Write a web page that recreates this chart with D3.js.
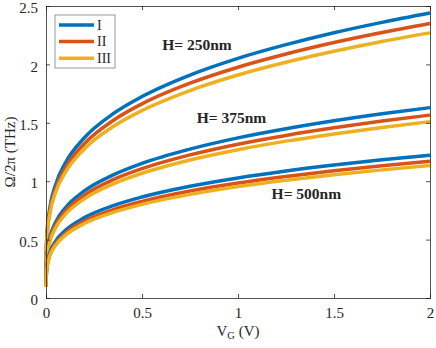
<!DOCTYPE html>
<html>
<head>
<meta charset="utf-8">
<script src="https://cdn.jsdelivr.net/npm/d3@7"></script>
<style>
  body { margin: 0; background: #fff; }
  svg text { font-family: "Liberation Serif", "DejaVu Serif", serif; fill: #262626; }
</style>
</head>
<body>
<div id="chart"></div>
<script>
// gate voltage samples (V)
var vg = [0.0001, 0.0005, 0.001, 0.005, 0.02, 0.05, 0.1, 0.2, 0.35, 0.5, 0.75, 1, 1.25, 1.5, 1.75, 2];

// Omega/2pi (THz)
var h250_I   = [0.205, 0.307, 0.365, 0.546, 0.772, 0.970, 1.154, 1.372, 1.578, 1.725, 1.909, 2.052, 2.169, 2.271, 2.360, 2.44];
var h250_II  = [0.198, 0.295, 0.351, 0.525, 0.743, 0.934, 1.111, 1.321, 1.520, 1.662, 1.839, 1.976, 2.089, 2.187, 2.273, 2.35];
var h250_III = [0.191, 0.285, 0.339, 0.508, 0.718, 0.903, 1.073, 1.276, 1.468, 1.605, 1.776, 1.909, 2.018, 2.112, 2.196, 2.27];
var h375_I   = [0.137, 0.205, 0.244, 0.364, 0.515, 0.648, 0.771, 0.917, 1.054, 1.153, 1.275, 1.371, 1.449, 1.517, 1.577, 1.63];
var h375_II  = [0.132, 0.197, 0.234, 0.350, 0.495, 0.623, 0.741, 0.881, 1.013, 1.107, 1.225, 1.317, 1.392, 1.457, 1.515, 1.566];
var h375_III = [0.127, 0.190, 0.226, 0.338, 0.477, 0.600, 0.714, 0.849, 0.977, 1.068, 1.182, 1.270, 1.343, 1.405, 1.460, 1.51];
var h500_I   = [0.103, 0.154, 0.183, 0.273, 0.387, 0.486, 0.578, 0.688, 0.791, 0.865, 0.957, 1.028, 1.087, 1.138, 1.183, 1.223];
var h500_II  = [0.098, 0.147, 0.175, 0.262, 0.370, 0.465, 0.553, 0.658, 0.757, 0.827, 0.916, 0.984, 1.040, 1.089, 1.132, 1.17];
var h500_III = [0.095, 0.143, 0.170, 0.254, 0.359, 0.451, 0.536, 0.638, 0.733, 0.802, 0.887, 0.954, 1.008, 1.055, 1.097, 1.134];

var seriesNames = ["I", "II", "III"];
var colors = ["#0072BD", "#D95319", "#EDB120"];
var groups = [
  [h250_I, h250_II, h250_III],
  [h375_I, h375_II, h375_III],
  [h500_I, h500_II, h500_III]
];
var annotations = [
  { text: "H= 250nm", x: 0.605, y: 2.12 },
  { text: "H= 375nm", x: 0.785, y: 1.495 },
  { text: "H= 500nm", x: 1.175, y: 0.85 }
];
var xTicks = [0, 0.5, 1, 1.5, 2];
var yTicks = [0, 0.5, 1, 1.5, 2, 2.5];

var W = 436, H = 348;
var margin = {top: 6, right: 6, bottom: 50, left: 46};
var width = W - margin.left - margin.right,
    height = H - margin.top - margin.bottom;

var svg = d3.select("#chart").append("svg").attr("width", W).attr("height", H);
var g = svg.append("g").attr("transform", "translate(" + margin.left + "," + margin.top + ")");

var x = d3.scaleLinear().domain([0, 2]).range([0, width]);
var y = d3.scaleLinear().domain([0, 2.5]).range([height, 0]);

// curves
var line = d3.line()
  .x(function(d, i) { return x(vg[i]); })
  .y(function(d) { return y(d); })
  .curve(d3.curveMonotoneX);

groups.forEach(function(grp) {
  grp.forEach(function(s, k) {
    g.append("path")
      .attr("d", line(s))
      .attr("fill", "none")
      .attr("stroke", colors[k])
      .attr("stroke-width", 3.5);
  });
});

// axes (box with inward ticks)
var tickLen = 4;
g.append("g").attr("transform", "translate(0," + height + ")")
  .call(d3.axisBottom(x).tickValues(xTicks).tickSize(-tickLen).tickPadding(9).tickFormat(d3.format("")));
g.append("g").call(d3.axisTop(x).tickValues(xTicks).tickSize(-tickLen).tickFormat(""));
g.append("g").attr("class", "yaxis")
  .call(d3.axisLeft(y).tickValues(yTicks).tickSize(-tickLen).tickPadding(8).tickFormat(d3.format("")));
g.append("g").attr("transform", "translate(" + width + ",0)")
  .call(d3.axisRight(y).tickValues(yTicks).tickSize(-tickLen).tickFormat(""));

g.selectAll(".domain").attr("stroke", "#262626").attr("stroke-width", 0.8);
g.selectAll(".tick line").attr("stroke", "#262626").attr("stroke-width", 0.8);
g.selectAll(".tick text").attr("font-size", 15)
  .attr("font-family", "Liberation Serif").attr("fill", "#262626");
g.selectAll(".yaxis .tick text").attr("dy", "0.45em");

// annotations
annotations.forEach(function(a) {
  g.append("text")
    .attr("x", x(a.x)).attr("y", y(a.y))
    .attr("font-size", 15.5).attr("font-weight", "bold")
    .attr("fill", "#000")
    .text(a.text);
});

// axis labels
var xl = svg.append("text")
  .attr("x", margin.left + width / 2).attr("y", 336)
  .attr("text-anchor", "middle").attr("font-size", 15);
xl.append("tspan").text("V");
xl.append("tspan").attr("font-size", 10.5).attr("dy", 3).text("G");
xl.append("tspan").attr("dy", -3).text(" (V)");

svg.append("text")
  .attr("transform", "translate(15," + (margin.top + height / 2) + ") rotate(-90)")
  .attr("text-anchor", "middle").attr("font-size", 15)
  .text("\u03A9/2\u03C0 (THz)");

// legend
var lg = svg.append("g").attr("transform", "translate(55,15)");
lg.append("rect").attr("width", 60).attr("height", 53)
  .attr("fill", "#fff").attr("stroke", "#7f7f7f").attr("stroke-width", 0.8);
seriesNames.forEach(function(name, k) {
  var yy = 10 + k * 16.6;
  lg.append("line").attr("x1", 4).attr("x2", 39).attr("y1", yy).attr("y2", yy)
    .attr("stroke", colors[k]).attr("stroke-width", 3.5);
  lg.append("text").attr("x", 42).attr("y", yy + 4.5).attr("font-size", 14).text(name);
});
</script>
</body>
</html>
